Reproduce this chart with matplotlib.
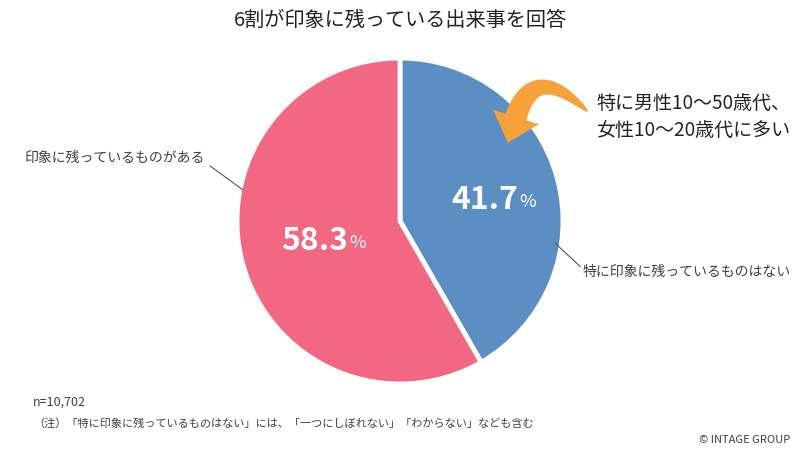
import matplotlib
matplotlib.use('Agg')
import matplotlib.pyplot as plt
from matplotlib.patches import Polygon
import numpy as np

plt.rcParams['font.family'] = ['Noto Sans CJK JP', 'DejaVu Sans']

title = '6割が印象に残っている出来事を回答'
labels = ['特に印象に残っているものはない', '印象に残っているものがある']
values = [41.7, 58.3]
colors = ['#5B8EC3', '#F26882']
note_n = 'n=10,702'
note_txt = '（注）「特に印象に残っているものはない」には、「一つにしぼれない」「わからない」なども含む'
callout = '特に男性10〜50歳代、\n女性10〜20歳代に多い'
txt_col = '#404040'
H = 450  # figure height in px, used to flip y

fig = plt.figure(figsize=(8, 4.5), dpi=100)
ax = fig.add_axes([0, 0, 1, 1])

cx, cy, r = 400, H - 221, 163
ax.pie(values, colors=colors, startangle=90, counterclock=False,
       center=(cx, cy), radius=r, frame=True,
       wedgeprops=dict(edgecolor='white', linewidth=3.5))
ax.set_xlim(0, 800)
ax.set_ylim(0, H)
ax.set_aspect('equal')
ax.axis('off')

fig.text(0.5, 0.955, title, ha='center', va='center', fontsize=14.5, color='#222222')

# percentage labels inside slices (number right-aligned, small % after it)
pct_pos = [(518, H - 200), (348, H - 241)]
for v, (x, y) in zip(values, pct_pos):
    ax.text(x, y, f'{v}', ha='right', va='center', fontsize=23,
            fontweight='bold', color='white')
    ax.text(x + 1, y - 2, '%', ha='left', va='center', fontsize=13, color='white')

# category labels with leader lines
ax.annotate(labels[0], xy=(555, H - 243), xytext=(583, H - 272),
            ha='left', va='center', fontsize=10, color=txt_col,
            arrowprops=dict(arrowstyle='-', color='#555555', lw=0.8,
                            shrinkA=0, shrinkB=0, relpos=(0, 0.7)))
ax.annotate(labels[1], xy=(243, H - 190), xytext=(205, H - 158),
            ha='right', va='center', fontsize=10, color=txt_col,
            arrowprops=dict(arrowstyle='-', color='#555555', lw=0.8,
                            shrinkA=2, shrinkB=0, relpos=(1, 0.2)))

# callout text
ax.text(596, H - 117, callout, ha='left', va='center', fontsize=13.7,
        color='#222222', linespacing=1.35)

# tapered curved arrow (quadratic bezier body + triangle head), px coords
p0 = np.array([588, 112.0])
c = np.array([534, 60.0])
p2 = np.array([516, 117.0])
t = np.linspace(0, 1, 60)[:, None]
pts = (1 - t) ** 2 * p0 + 2 * (1 - t) * t * c + t ** 2 * p2
der = 2 * (1 - t) * (c - p0) + 2 * t * (p2 - c)
der = der / np.linalg.norm(der, axis=1, keepdims=True)
nrm = np.column_stack([-der[:, 1], der[:, 0]])
w = 11 * t[:, 0] ** 0.5
side_a = pts + nrm * w[:, None]
side_b = pts - nrm * w[:, None]
d_end = der[-1]
n_end = nrm[-1]
tip = p2 + d_end * 27
head = [p2 + n_end * 24, tip, p2 - n_end * 24]
outline = np.vstack([side_a, head, side_b[::-1]])
outline[:, 1] = H - outline[:, 1]
ax.add_patch(Polygon(outline, closed=True, facecolor='#F7A13B', edgecolor='none'))

fig.text(33 / 800, 1 - 402 / H, note_n, ha='left', va='center', fontsize=9, color=txt_col)
fig.text(33 / 800, 1 - 423 / H, note_txt, ha='left', va='center', fontsize=8, color=txt_col)
fig.text(790 / 800, 1 - 440 / H, '© INTAGE GROUP', ha='right', va='center',
         fontsize=8, color=txt_col)

fig.savefig('out.png', dpi=100)
